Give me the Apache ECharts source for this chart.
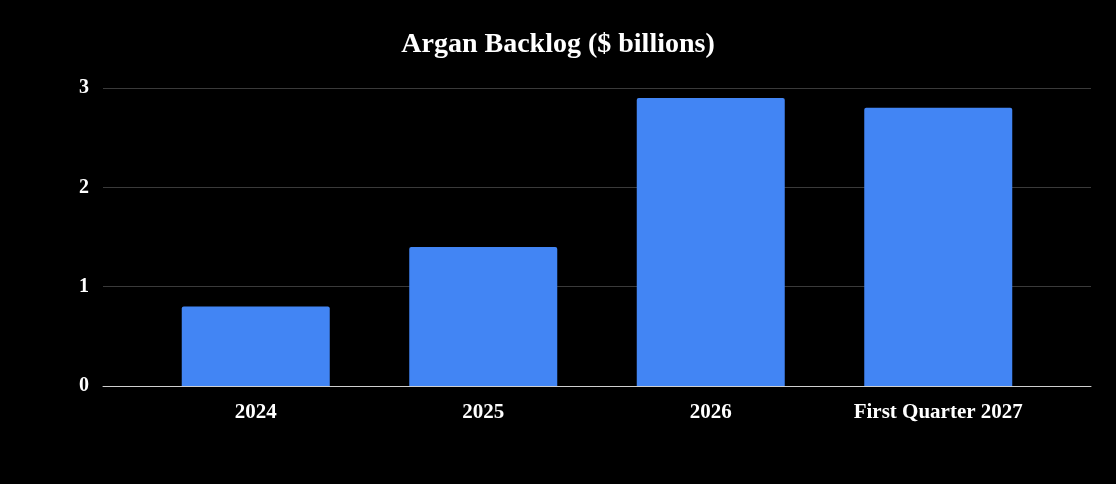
<!DOCTYPE html>
<html>
<head>
<meta charset="utf-8">
<script src="https://cdn.jsdelivr.net/npm/echarts@6/dist/echarts.min.js"></script>
<style>
  html, body { margin: 0; padding: 0; background: #000; }
  #chart { width: 1116px; height: 484px; }
</style>
</head>
<body>
<div id="chart"></div>
<script>
const categories = ['2024', '2025', '2026', 'First Quarter 2027']
const backlog = [0.8, 1.4, 2.9, 2.8]
const yTicks = [0, 1, 2, 3]

const font = '"Liberation Serif", "DejaVu Serif", serif'

const chart = echarts.init(document.getElementById('chart'))

chart.setOption({
  backgroundColor: '#000',
  animation: false,
  title: {
    text: 'Argan Backlog ($ billions)',
    left: 'center',
    top: 26,
    textStyle: { color: '#fff', fontFamily: font, fontWeight: 'bold', fontSize: 28 }
  },
  grid: [
    { left: 103, right: 25, top: 88, bottom: 98 },
    { left: 142, right: 64, top: 88, bottom: 98 }
  ],
  xAxis: [
    {
      // full-width baseline
      type: 'category',
      gridIndex: 0,
      data: categories,
      axisLine: { show: true, lineStyle: { color: '#cfcfcf', width: 1 } },
      axisTick: { show: false },
      axisLabel: { show: false }
    },
    {
      type: 'category',
      gridIndex: 1,
      data: categories,
      axisLine: { show: false },
      axisTick: { show: false },
      axisLabel: { color: '#fff', fontFamily: font, fontWeight: 'bold', fontSize: 21, margin: 16 }
    }
  ],
  yAxis: [
    {
      type: 'value',
      gridIndex: 0,
      min: yTicks[0],
      max: yTicks[yTicks.length - 1],
      interval: 1,
      axisLine: { show: false },
      axisTick: { show: false },
      axisLabel: { color: '#fff', fontFamily: font, fontWeight: 'bold', fontSize: 20, margin: 14 },
      splitLine: { lineStyle: { color: '#3a3a3a', width: 1 } }
    },
    {
      type: 'value',
      gridIndex: 1,
      min: yTicks[0],
      max: yTicks[yTicks.length - 1],
      interval: 1,
      show: false
    }
  ],
  series: [{
    type: 'bar',
    xAxisIndex: 1,
    yAxisIndex: 1,
    data: backlog,
    barWidth: 148,
    itemStyle: { color: '#4285F4', borderRadius: [2, 2, 0, 0] }
  }]
})
</script>
</body>
</html>
